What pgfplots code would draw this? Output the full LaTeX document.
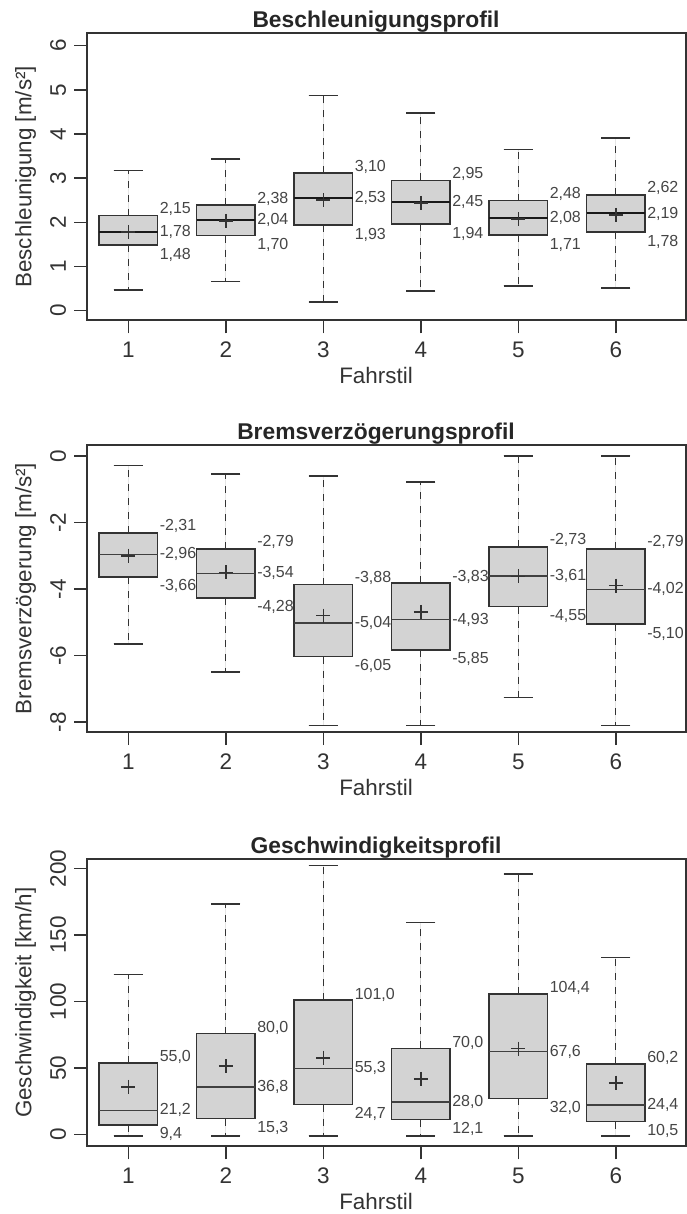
\documentclass[border=0pt]{standalone}
\usepackage{fontspec}
\setmainfont{Liberation Sans}
\usepackage{pgfplots}
\usepackage{pgfplotstable}
\pgfplotsset{compat=1.18}
\usepgfplotslibrary{statistics}

\definecolor{boxfill}{HTML}{D3D3D3}
\definecolor{dark}{HTML}{333333}
\definecolor{labcol}{HTML}{454545}

% value labels: x, upper quartile, median, lower quartile and their printed texts
\pgfplotstableread{
x q3 med q1 t3 tm t1
1 2.15 1.78 1.48 2,15 1,78 1,48
2 2.39 2.05 1.70 2,38 2,04 1,70
3 3.11 2.54 1.94 3,10 2,53 1,93
4 2.95 2.47 1.96 2,95 2,45 1,94
5 2.49 2.09 1.71 2,48 2,08 1,71
6 2.62 2.20 1.78 2,62 2,19 1,78
}\labA
\pgfplotstableread{
x q3 med q1 t3 tm t1
1 -2.31 -2.96 -3.64 -2,31 -2,96 -3,66
2 -2.79 -3.53 -4.27 -2,79 -3,54 -4,28
3 -3.87 -5.03 -6.03 -3,88 -5,04 -6,05
4 -3.82 -4.92 -5.83 -3,83 -4,93 -5,85
5 -2.73 -3.60 -4.53 -2,73 -3,61 -4,55
6 -2.79 -4.01 -5.06 -2,79 -4,02 -5,10
}\labB
\pgfplotstableread{
x q3 med q1 t3 tm t1
1 54.0 18.2 7.2 55,0 21,2 9,4
2 76.0 36.0 12.0 80,0 36,8 15,3
3 101.0 49.8 22.5 101,0 55,3 24,7
4 64.8 24.5 11.3 70,0 28,0 12,1
5 105.8 62.5 27.3 104,4 67,6 32,0
6 53.3 22.2 9.8 60,2 24,4 10,5
}\labC

\pgfplotsset{
  panel/.style={
    width=599pt, height=287pt, scale only axis,
    anchor=north west, clip=false,
    xmin=0.5764, xmax=6.72,
    xtick={1,2,3,4,5,6}, xticklabels={1,2,3,4,5,6},
    xtick pos=bottom, ytick pos=left,
    tick align=outside, major tick length=13pt,
    tick style={dark, line width=1.4pt},
    axis line style={dark, line width=1.7pt},
    tick label style={font=\fontsize{22.5}{26}\selectfont, text=dark, inner sep=0pt},
    xticklabel style={anchor=base, yshift=-24pt},
    yticklabel style={xshift=-8pt, rotate=90, anchor=base},
    title style={font=\bfseries\fontsize{22.8}{26}\selectfont, text=black!85,
      at={(axis description cs:0.4825,1)}, anchor=base, yshift=0pt, inner sep=0pt},
    xlabel style={font=\fontsize{22.4}{26}\selectfont, text=dark,
      at={(axis description cs:0.4825,0)}, anchor=base, yshift=-63pt, inner sep=0pt},
    ylabel style={font=\fontsize{22.4}{26}\selectfont, text=dark,
      at={(axis description cs:-0.0928,0.5)}, anchor=base, inner sep=0pt},
    xlabel={Fahrstil},
    boxplot/draw direction=y,
    boxplot/box extend=0.6,
    boxplot/whisker extend=0.3,
    boxplot/every average/.style={/tikz/mark=+, /tikz/mark size=7pt,
      /tikz/line width=1.5pt, /tikz/draw=black, /tikz/solid},
    boxplot/draw/lower whisker/.code={%
      \draw[dark, line width=1.3pt, dash pattern=on 7pt off 7pt]
        (boxplot whisker cs:\pgfplotsboxplotvalue{lower quartile},0.5)
        -- (boxplot whisker cs:\pgfplotsboxplotvalue{lower whisker},0.5);
      \draw[dark, line width=1.6pt]
        (boxplot whisker cs:\pgfplotsboxplotvalue{lower whisker},0)
        -- (boxplot whisker cs:\pgfplotsboxplotvalue{lower whisker},1);
    },
    boxplot/draw/upper whisker/.code={%
      \draw[dark, line width=1.3pt, dash pattern=on 7pt off 7pt]
        (boxplot whisker cs:\pgfplotsboxplotvalue{upper quartile},0.5)
        -- (boxplot whisker cs:\pgfplotsboxplotvalue{upper whisker},0.5);
      \draw[dark, line width=1.6pt]
        (boxplot whisker cs:\pgfplotsboxplotvalue{upper whisker},0)
        -- (boxplot whisker cs:\pgfplotsboxplotvalue{upper whisker},1);
    },
  },
  bx/.style={boxplot prepared={#1}, draw=dark, line width=1.6pt, fill=boxfill, solid},
  vlab/.style={only marks, mark=none, nodes near coords, point meta=explicit symbolic,
    every node near coord/.append style={font=\fontsize{16}{18}\selectfont,
      text=labcol, inner sep=0pt, xshift=2pt}},
}

\begin{document}
\begin{tikzpicture}
\useasboundingbox (0,0) rectangle (687pt,-1214pt);

% ---- Beschleunigung
\begin{axis}[panel, at={(87pt,-33.3pt)},
  ymin=-0.22, ymax=6.28, ytick={0,1,2,3,4,5,6}, yticklabels={0,1,2,3,4,5,6},
  title={Beschleunigungsprofil}, ylabel={Beschleunigung [m/s²]},
  boxplot/every median/.style={line width=2pt, draw=black!90}]
\addplot[bx={draw position=1, lower whisker=0.47, lower quartile=1.48, median=1.78, upper quartile=2.15, upper whisker=3.17, average=1.78}] coordinates {};
\addplot[bx={draw position=2, lower whisker=0.66, lower quartile=1.70, median=2.05, upper quartile=2.39, upper whisker=3.43, average=2.03}] coordinates {};
\addplot[bx={draw position=3, lower whisker=0.19, lower quartile=1.94, median=2.54, upper quartile=3.11, upper whisker=4.87, average=2.50}] coordinates {};
\addplot[bx={draw position=4, lower whisker=0.44, lower quartile=1.96, median=2.47, upper quartile=2.95, upper whisker=4.47, average=2.44}] coordinates {};
\addplot[bx={draw position=5, lower whisker=0.56, lower quartile=1.71, median=2.09, upper quartile=2.49, upper whisker=3.65, average=2.07}] coordinates {};
\addplot[bx={draw position=6, lower whisker=0.51, lower quartile=1.78, median=2.20, upper quartile=2.62, upper whisker=3.91, average=2.17}] coordinates {};
\addplot[vlab, every node near coord/.append style={anchor=base west, yshift=2pt}]
  table[x expr=\thisrow{x}+0.3, y=q3, meta=t3] {\labA};
\addplot[vlab, every node near coord/.append style={anchor=west}]
  table[x expr=\thisrow{x}+0.3, y=med, meta=tm] {\labA};
\addplot[vlab, every node near coord/.append style={anchor=north west, yshift=-3pt}]
  table[x expr=\thisrow{x}+0.3, y=q1, meta=t1] {\labA};
\end{axis}

% ---- Bremsverzoegerung
\begin{axis}[panel, at={(87pt,-445pt)},
  ymin=-8.30, ymax=0.33, ytick={-8,-6,-4,-2,0}, yticklabels={-8,-6,-4,-2,0},
  title={Bremsverzögerungsprofil}, ylabel={Bremsverzögerung [m/s²]},
  boxplot/every median/.style={line width=1.6pt, draw=black!75}]
\addplot[bx={draw position=1, lower whisker=-5.65, lower quartile=-3.64, median=-2.96, upper quartile=-2.31, upper whisker=-0.29, average=-3.00}] coordinates {};
\addplot[bx={draw position=2, lower whisker=-6.49, lower quartile=-4.27, median=-3.53, upper quartile=-2.79, upper whisker=-0.55, average=-3.50}] coordinates {};
\addplot[bx={draw position=3, lower whisker=-8.11, lower quartile=-6.03, median=-5.03, upper quartile=-3.87, upper whisker=-0.61, average=-4.80}] coordinates {};
\addplot[bx={draw position=4, lower whisker=-8.11, lower quartile=-5.83, median=-4.92, upper quartile=-3.82, upper whisker=-0.79, average=-4.69}] coordinates {};
\addplot[bx={draw position=5, lower whisker=-7.26, lower quartile=-4.53, median=-3.60, upper quartile=-2.73, upper whisker=0.00, average=-3.62}] coordinates {};
\addplot[bx={draw position=6, lower whisker=-8.11, lower quartile=-5.06, median=-4.01, upper quartile=-2.79, upper whisker=0.00, average=-3.90}] coordinates {};
\addplot[vlab, every node near coord/.append style={anchor=base west, yshift=2pt}]
  table[x expr=\thisrow{x}+0.3, y=q3, meta=t3] {\labB};
\addplot[vlab, every node near coord/.append style={anchor=west}]
  table[x expr=\thisrow{x}+0.3, y=med, meta=tm] {\labB};
\addplot[vlab, every node near coord/.append style={anchor=north west, yshift=-2.5pt}]
  table[x expr=\thisrow{x}+0.3, y=q1, meta=t1] {\labB};
\end{axis}

% ---- Geschwindigkeit
\begin{axis}[panel, at={(87pt,-859.3pt)},
  ymin=-8.8, ymax=207, ytick={0,50,100,150,200}, yticklabels={0,50,100,150,200},
  title={Geschwindigkeitsprofil}, ylabel={Geschwindigkeit [km/h]},
  boxplot/every median/.style={line width=1.6pt, draw=black!75}]
\addplot[bx={draw position=1, lower whisker=-1, lower quartile=7.2, median=18.2, upper quartile=54.0, upper whisker=120.3, average=35.8}] coordinates {};
\addplot[bx={draw position=2, lower whisker=-1, lower quartile=12.0, median=36.0, upper quartile=76.0, upper whisker=173.4, average=51.5}] coordinates {};
\addplot[bx={draw position=3, lower whisker=-1, lower quartile=22.5, median=49.8, upper quartile=101.0, upper whisker=202.2, average=57.8}] coordinates {};
\addplot[bx={draw position=4, lower whisker=-1, lower quartile=11.3, median=24.5, upper quartile=64.8, upper whisker=159.6, average=42.0}] coordinates {};
\addplot[bx={draw position=5, lower whisker=-1, lower quartile=27.3, median=62.5, upper quartile=105.8, upper whisker=195.9, average=64.6}] coordinates {};
\addplot[bx={draw position=6, lower whisker=-1, lower quartile=9.8, median=22.2, upper quartile=53.3, upper whisker=133.3, average=39.0}] coordinates {};
\addplot[vlab, every node near coord/.append style={anchor=base west, yshift=1pt}]
  table[x expr=\thisrow{x}+0.3, y=q3, meta=t3] {\labC};
\addplot[vlab, every node near coord/.append style={anchor=west}]
  table[x expr=\thisrow{x}+0.3, y=med, meta=tm] {\labC};
\addplot[vlab, every node near coord/.append style={anchor=north west, yshift=-2.5pt}]
  table[x expr=\thisrow{x}+0.3, y=q1, meta=t1] {\labC};
\end{axis}
\end{tikzpicture}
\end{document}
